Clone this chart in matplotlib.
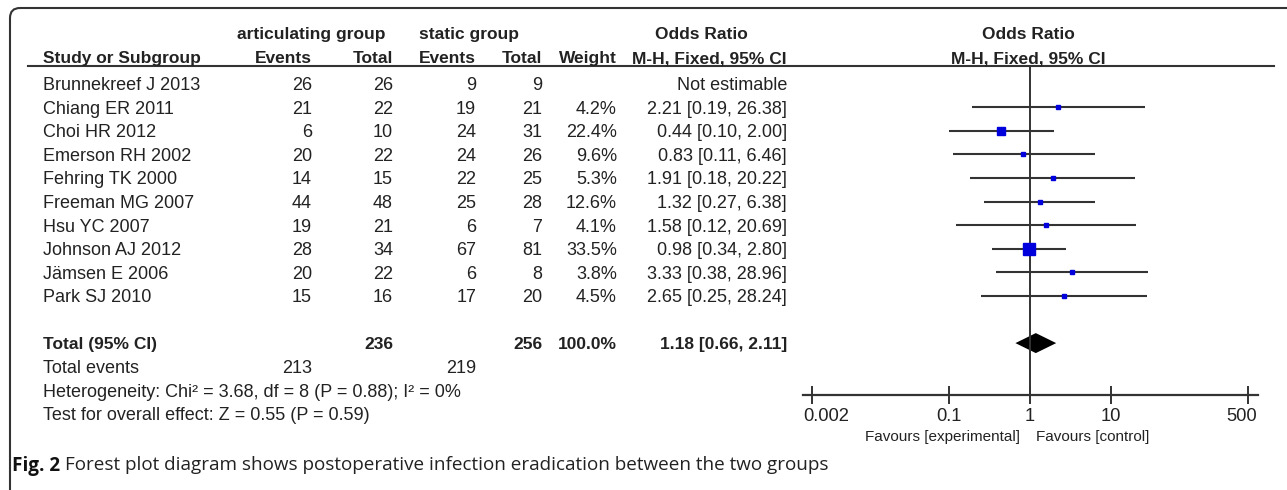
import numpy as np
import matplotlib.pyplot as plt
import matplotlib.transforms as mtransforms
from matplotlib.patches import FancyBboxPatch

# ---- data
studies = ['Brunnekreef J 2013', 'Chiang ER 2011', 'Choi HR 2012', 'Emerson RH 2002',
           'Fehring TK 2000', 'Freeman MG 2007', 'Hsu YC 2007', 'Johnson AJ 2012',
           'Jämsen E 2006', 'Park SJ 2010']
art_events = [26, 21, 6, 20, 14, 44, 19, 28, 20, 15]
art_total = [26, 22, 10, 22, 15, 48, 21, 34, 22, 16]
sta_events = [9, 19, 24, 24, 22, 25, 6, 67, 6, 17]
sta_total = [9, 21, 31, 26, 25, 28, 7, 81, 8, 20]
weight = [None, 4.2, 22.4, 9.6, 5.3, 12.6, 4.1, 33.5, 3.8, 4.5]
odds = [None, 2.21, 0.44, 0.83, 1.91, 1.32, 1.58, 0.98, 3.33, 2.65]
ci_low = [None, 0.19, 0.10, 0.11, 0.18, 0.27, 0.12, 0.34, 0.38, 0.25]
ci_high = [None, 26.38, 2.00, 6.46, 20.22, 6.38, 20.69, 2.80, 28.96, 28.24]

total_art, total_sta = 236, 256
total_art_events, total_sta_events = 213, 219
total_or, total_lo, total_hi = 1.18, 0.66, 2.11

tick_vals = [0.002, 0.1, 1, 10, 500]
tick_labels = ['0.002', '0.1', '1', '10', '500']

het_text = 'Heterogeneity: Chi² = 3.68, df = 8 (P = 0.88); I² = 0%'
effect_text = 'Test for overall effect: Z = 0.55 (P = 0.59)'
caption_bold = 'Fig. 2'
caption = 'Forest plot diagram shows postoperative infection eradication between the two groups'

# ---- layout (pixel units, figure is 1287 x 490)
W, H = 1287, 490
FONT = 'Liberation Sans'
TC = '#222222'
LC = '#333333'
FS_B = 12.5   # bold header size
FS = 13       # table cell size


def row_y(r):
    return 83.5 + r * 23.6


fig = plt.figure(figsize=(W / 100, H / 100), dpi=100)
ax = fig.add_axes([0, 0, 1, 1])
ax.set_xlim(0, W)
ax.set_ylim(H, 0)
ax.axis('off')

# rounded frame
box = FancyBboxPatch((10, 8), 1300, 500, boxstyle='round,pad=0,rounding_size=10',
                     fc='none', ec=LC, lw=1.5, clip_on=False)
ax.add_patch(box)

# header
hdr = dict(fontsize=FS_B, fontweight='bold', color=TC, family=FONT, va='center_baseline')
ax.text(311, 33, 'articulating group', ha='center', **hdr)
ax.text(469, 33, 'static group', ha='center', **hdr)
ax.text(701, 33, 'Odds Ratio', ha='center', **hdr)
ax.text(43, 57, 'Study or Subgroup', ha='left', **hdr)
for x, s in [(312, 'Events'), (393, 'Total'), (476, 'Events'), (542, 'Total'),
             (617, 'Weight'), (787, 'M-H, Fixed, 95% CI')]:
    ax.text(x, 57, s, ha='right', **hdr)
ax.plot([28, 1274], [66.5, 66.5], color=LC, lw=1.5)

# study rows
cell = dict(fontsize=FS, color=TC, family=FONT, va='center_baseline')
for i, name in enumerate(studies):
    y = row_y(i)
    ax.text(43, y, name, ha='left', **cell)
    ax.text(312, y, str(art_events[i]), ha='right', **cell)
    ax.text(393, y, str(art_total[i]), ha='right', **cell)
    ax.text(476, y, str(sta_events[i]), ha='right', **cell)
    ax.text(542, y, str(sta_total[i]), ha='right', **cell)
    if odds[i] is None:
        ax.text(787, y, 'Not estimable', ha='right', **cell)
    else:
        ax.text(617, y, f'{weight[i]:.1f}%', ha='right', **cell)
        ax.text(787, y, f'{odds[i]:.2f} [{ci_low[i]:.2f}, {ci_high[i]:.2f}]', ha='right', **cell)

# totals
yt = row_y(11)
ax.text(43, yt, 'Total (95% CI)', ha='left', **hdr)
ax.text(393, yt, str(total_art), ha='right', **hdr)
ax.text(542, yt, str(total_sta), ha='right', **hdr)
ax.text(617, yt, '100.0%', ha='right', **hdr)
ax.text(787, yt, f'{total_or:.2f} [{total_lo:.2f}, {total_hi:.2f}]', ha='right', **hdr)
ax.text(43, row_y(12), 'Total events', ha='left', **cell)
ax.text(312, row_y(12), str(total_art_events), ha='right', **cell)
ax.text(476, row_y(12), str(total_sta_events), ha='right', **cell)
ax.text(43, row_y(13), het_text, ha='left', **cell)
ax.text(43, row_y(14), effect_text, ha='left', **cell)

# ---- forest panel
x0, x1, y_top, y_axis = 803, 1258, 66.5, 395
px_dec = (1248 - 812) / (2 * np.log10(500))
axf = fig.add_axes([x0 / W, 1 - y_axis / H, (x1 - x0) / W, (y_axis - y_top) / H])
axf.set_xscale('log')
axf.set_xlim(0.002 * 10 ** (-(812 - x0) / px_dec), 500 * 10 ** ((x1 - 1248) / px_dec))
axf.set_ylim(y_axis, y_top)
axf.patch.set_alpha(0)
for s in ['top', 'left', 'right']:
    axf.spines[s].set_visible(False)
axf.spines['bottom'].set_color(LC)
axf.spines['bottom'].set_linewidth(1.6)
axf.set_yticks([])
axf.set_xticks(tick_vals)
axf.set_xticklabels(tick_labels, fontsize=13.2, family=FONT, color=TC)
axf.minorticks_off()
axf.tick_params(axis='x', direction='inout', length=13, width=1.4, color=LC, pad=3)
# RevMan pulls the end labels inward
labs = axf.get_xticklabels()
labs[0].set_transform(labs[0].get_transform() + mtransforms.ScaledTranslation(14 / 100, 0, fig.dpi_scale_trans))
labs[-1].set_transform(labs[-1].get_transform() + mtransforms.ScaledTranslation(-6 / 100, 0, fig.dpi_scale_trans))

axf.axvline(1, color=LC, lw=1.4)
for i in range(len(studies)):
    if odds[i] is None:
        continue
    y = row_y(i)
    axf.hlines(y, ci_low[i], ci_high[i], color=LC, lw=1.5)
    side = max(3.5, 12 * weight[i] / 33.5)
    axf.plot(odds[i], y, marker='s', ms=side * 0.72, color='#0000dd', mec='#0000dd', lw=0)

axf.fill([total_lo, total_or, total_hi, total_or], [yt, yt - 10, yt, yt + 10], color='black', lw=0)

axf.annotate('Odds Ratio', xy=(1, 1), xycoords=('data', 'axes fraction'), xytext=(-2, 33.5),
             textcoords='offset pixels', ha='center', va='center_baseline', fontsize=FS_B,
             fontweight='bold', color=TC, family=FONT)
axf.annotate('M-H, Fixed, 95% CI', xy=(1, 1), xycoords=('data', 'axes fraction'), xytext=(-2, 9.5),
             textcoords='offset pixels', ha='center', va='center_baseline', fontsize=FS_B,
             fontweight='bold', color=TC, family=FONT)
axf.annotate('Favours [experimental]', xy=(1, 0), xycoords=('data', 'axes fraction'),
             xytext=(-10, -40), textcoords='offset pixels', ha='right', va='center_baseline',
             fontsize=11, color=TC, family=FONT)
axf.annotate('Favours [control]', xy=(1, 0), xycoords=('data', 'axes fraction'),
             xytext=(6, -40), textcoords='offset pixels', ha='left', va='center_baseline',
             fontsize=11, color=TC, family=FONT)

# ---- caption
t1 = ax.text(12, 463, caption_bold, ha='left', va='center_baseline', fontsize=13.6,
             fontweight='bold', family='Open Sans', color='#111111')
fig.canvas.draw()
bb = t1.get_window_extent()
ax.text(bb.x1 + 5, 463, caption, ha='left', va='center_baseline', fontsize=13.6,
        family='Open Sans', color='#222222')

fig.savefig('out.png', dpi=100, facecolor='white')
